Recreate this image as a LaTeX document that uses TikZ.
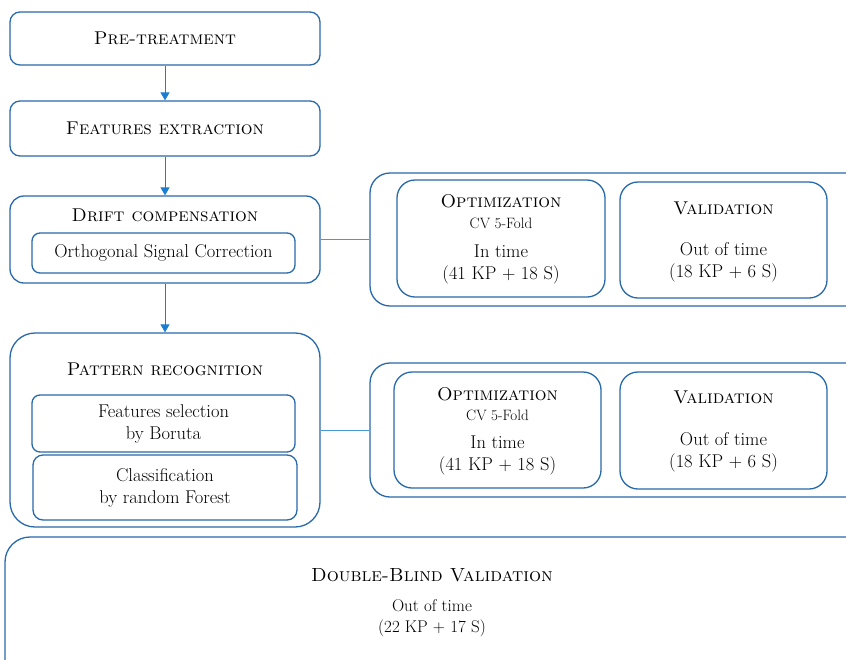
\documentclass[tikz,border=0pt]{standalone}
\usetikzlibrary{arrows.meta}
\definecolor{boxblue}{RGB}{40,105,170}
\definecolor{arrowblue}{RGB}{25,125,210}

\begin{document}
\begin{tikzpicture}[x=1pt, y=-1pt,
    box/.style={draw=boxblue, line width=1.3pt, rounded corners=10pt,
        fill=white, align=center, inner sep=0pt,
        font=\fontsize{18.5}{22}\selectfont},
    txt/.style={align=center, inner sep=0pt, font=\fontsize{18.5}{22}\selectfont},
    small/.style={align=center, inner sep=0pt, font=\fontsize{15}{17}\selectfont},
    link/.style={draw=arrowblue, line width=0.8pt,
        -{Triangle[width=9pt,length=8pt,fill=arrowblue]}},
    tie/.style={draw=arrowblue!80, line width=0.6pt}
]
    \useasboundingbox (0,0) rectangle (846,659);

    % left column
    \node[box, minimum width=310pt, minimum height=53pt] (pre) at (165,38.5) {\textsc{Pre-treatment}};
    \node[box, minimum width=310pt, minimum height=55pt] (feat) at (165,128.5) {\textsc{Features extraction}};
    \node[box, minimum width=310pt, minimum height=87pt, rounded corners=14pt] (drift) at (165,239.5) {};
    \node[txt] (drifttitle) at (165,215) {\textsc{Drift compensation}};
    \node[box, minimum width=263pt, minimum height=40pt, rounded corners=8pt] (osc) at (163.5,253) {Orthogonal Signal Correction};
    \node[box, minimum width=310pt, minimum height=194pt, rounded corners=25pt] (pattern) at (165,430) {};
    \node[txt] (patterntitle) at (165,369) {\textsc{Pattern recognition}};
    \node[box, minimum width=263pt, minimum height=57pt, rounded corners=8pt] (boruta) at (163.5,423.5) {Features selection\\by Boruta};
    \node[box, minimum width=264pt, minimum height=65pt, rounded corners=10pt] (forest) at (165,487.5) {Classification\\by random Forest};

    % first validation panel
    \node[box, minimum width=500pt, minimum height=133pt, rounded corners=20pt] (panelA) at (620,239.5) {};
    \node[box, minimum width=208pt, minimum height=117pt, rounded corners=18pt] (optA) at (501,238.5) {};
    \node[txt] (optAhead) at (501,201) {\textsc{Optimization}};
    \node[small] (optAcv) at (501,223) {CV 5-Fold};
    \node[txt] (optAbody) at (501,264) {In time\\(41 KP + 18 S)};
    \node[box, minimum width=207pt, minimum height=116pt, rounded corners=18pt] (valA) at (723.5,240) {};
    \node[txt] (valAhead) at (723.5,208) {\textsc{Validation}};
    \node[txt] (valAbody) at (723.5,262.5) {Out of time\\(18 KP + 6 S)};

    % second validation panel
    \node[box, minimum width=500pt, minimum height=134pt, rounded corners=20pt] (panelB) at (620,430) {};
    \node[box, minimum width=207pt, minimum height=116pt, rounded corners=18pt] (optB) at (497.5,430) {};
    \node[txt] (optBhead) at (497.5,394) {\textsc{Optimization}};
    \node[small] (optBcv) at (497.5,415) {CV 5-Fold};
    \node[txt] (optBbody) at (497.5,455.5) {In time\\(41 KP + 18 S)};
    \node[box, minimum width=207pt, minimum height=117pt, rounded corners=18pt] (valB) at (723.5,430.5) {};
    \node[txt] (valBhead) at (723.5,397) {\textsc{Validation}};
    \node[txt] (valBbody) at (723.5,452) {Out of time\\(18 KP + 6 S)};

    % double-blind box
    \node[box, minimum width=875pt, minimum height=163pt, rounded corners=25pt] (dbv) at (442.5,618.5) {};
    \node[txt, font=\fontsize{19}{22}\selectfont] (dbvhead) at (432,575) {\textsc{Double-Blind Validation}};
    \node[txt, font=\fontsize{17}{21}\selectfont] (dbvbody) at (432,618) {Out of time\\(22 KP + 17 S)};

    % connectors
    \draw[link] (pre) -- (feat);
    \draw[link] (feat) -- (drift);
    \draw[link] (drift) -- (pattern);
    \draw[tie] (drift.east) -- (panelA.west);
    \draw[tie] (pattern.east) -- (panelB.west);
\end{tikzpicture}
\end{document}
